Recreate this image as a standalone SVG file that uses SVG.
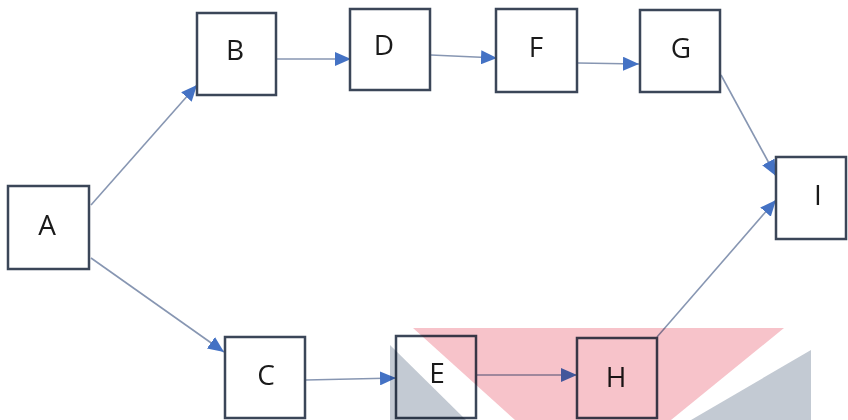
<svg xmlns="http://www.w3.org/2000/svg" width="848" height="420" viewBox="0 0 848 420">
<defs>
<style>
.box{fill:none;stroke:#3b4658;stroke-width:2.5}
.lbl{font-family:"Open Sans","Liberation Sans",sans-serif;font-size:28px;fill:#1a1a1a;text-anchor:middle}
.edge{stroke:#8796b2;stroke-width:1.6;fill:none}
</style>
<marker id="arr" viewBox="0 0 16 14" refX="16" refY="7" markerWidth="16" markerHeight="14" markerUnits="userSpaceOnUse" orient="auto">
<path d="M0,0 L16,7 L0,14 Z" fill="#4472c4"/>
</marker>
</defs>
<rect width="848" height="420" fill="#ffffff"/>
<g id="connectors">
<line class="edge" x1="91" y1="205" x2="197" y2="85" marker-end="url(#arr)"/>
<line class="edge" x1="276" y1="59" x2="351" y2="59" marker-end="url(#arr)"/>
<line class="edge" x1="431" y1="55" x2="497" y2="58" marker-end="url(#arr)"/>
<line class="edge" x1="578" y1="63" x2="639" y2="64" marker-end="url(#arr)"/>
<line class="edge" x1="721" y1="75" x2="776" y2="176" marker-end="url(#arr)"/>
<line class="edge" x1="657" y1="337" x2="776" y2="200" marker-end="url(#arr)"/>
<line class="edge" x1="91" y1="258" x2="224" y2="352" marker-end="url(#arr)"/>
<line class="edge" x1="306" y1="380" x2="396" y2="378" marker-end="url(#arr)"/>
<line class="edge" x1="477" y1="375" x2="577" y2="375" marker-end="url(#arr)"/>
</g>
<g id="node-A"><rect class="box" x="8" y="186" width="81" height="83"/><text class="lbl" x="47" y="235">A</text></g>
<g id="node-B"><rect class="box" x="197" y="13" width="79" height="82"/><text class="lbl" x="235" y="60">B</text></g>
<g id="node-D"><rect class="box" x="350" y="9" width="80" height="81"/><text class="lbl" x="384" y="55">D</text></g>
<g id="node-F"><rect class="box" x="496" y="9" width="81" height="83"/><text class="lbl" x="536" y="57">F</text></g>
<g id="node-G"><rect class="box" x="640" y="10" width="80" height="82"/><text class="lbl" x="681" y="58">G</text></g>
<g id="node-I"><rect class="box" x="776" y="157" width="70" height="82"/><text class="lbl" x="818" y="205">I</text></g>
<g id="node-C"><rect class="box" x="225" y="337" width="80" height="81"/><text class="lbl" x="266" y="385">C</text></g>
<g id="node-E"><rect class="box" x="396" y="336" width="80" height="82"/><text class="lbl" x="437" y="383">E</text></g>
<g id="node-H"><rect class="box" x="577" y="338" width="80" height="80"/><text class="lbl" x="616" y="387">H</text></g>
<g id="watermark" style="mix-blend-mode:multiply">
<polygon points="413,328 784,328 671,420 515,420" fill="#f7c3ca"/>
<polygon points="390,345 390,420 466,420" fill="#c3cad3"/>
<polygon points="811,350 811,420 691,420" fill="#c3cad3"/>
</g>
</svg>
